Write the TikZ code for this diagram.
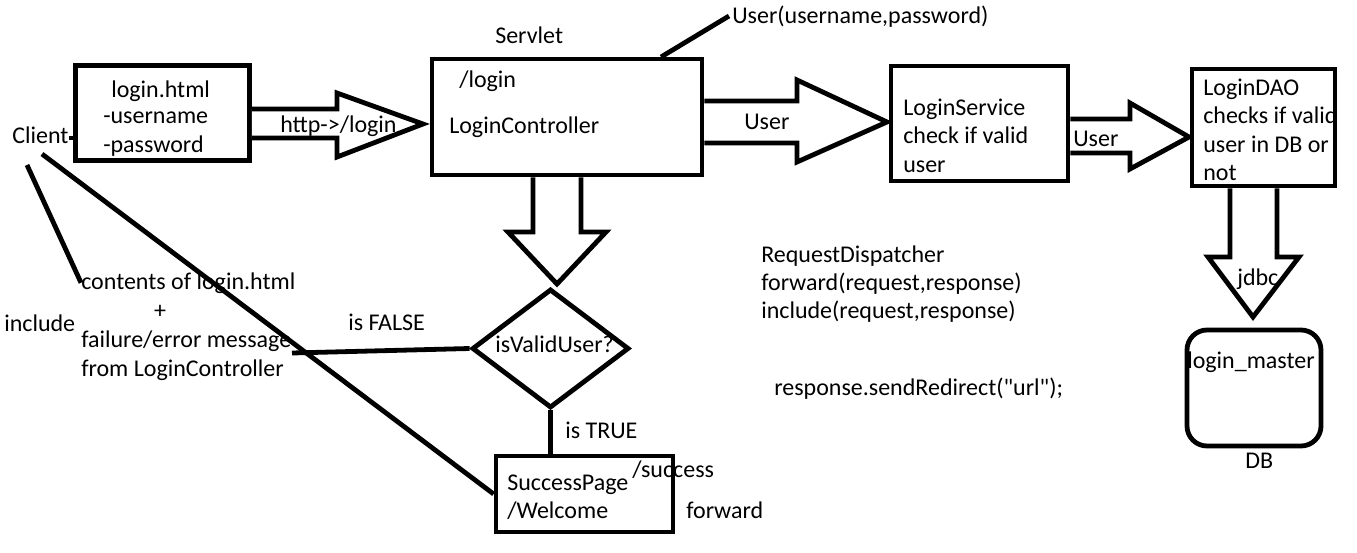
\documentclass[tikz,border=0pt]{standalone}
\usepackage{fontspec}
\setmainfont{Carlito}[Ligatures=TeXOff]
\usetikzlibrary{shapes.geometric,fit}
\begin{document}
\begin{tikzpicture}[x=0.75pt,y=-0.75pt,
  every node/.style={font=\fontsize{18pt}{21pt}\selectfont},
  txt/.style={inner sep=0pt, anchor=base west},
  ln/.style={line width=3.6pt, line cap=butt},
  box/.style={draw, line width=3.6pt, inner sep=0pt, fit={#1}},
  blockarrow/.style={draw, line width=3.6pt, line join=miter, fill=white}
]
\useasboundingbox[fill=white] (0,0) rectangle (1357,553);

% ---------- boxes ----------
\node[box={(75.5,65.5)(249.5,160.5)}] (login) {};
\node[box={(432,59)(702,175)}] (servlet) {};
\node[box={(891,66)(1068,181)}] (service) {};
\node[box={(1192,69)(1335,186)}] (dao) {};
\node[box={(496,456)(673,532)}] (success) {};
\node[draw, diamond, line width=3.6pt, inner sep=0pt,
      minimum width=117.75pt, minimum height=89.25pt] (dec) at (550.5,348.5) {};

% ---------- block arrows ----------
\draw[blockarrow] (login.east |- 0,109) -- (337,109) -- (337,93) -- (423,124)
   -- (337,157) -- (337,138) -- (login.east |- 0,138);
\draw[blockarrow] (servlet.east |- 0,101) -- (797,101) -- (797,80) -- (887,122)
   -- (797,162) -- (797,143) -- (servlet.east |- 0,143);
\draw[blockarrow] (service.east |- 0,119) -- (1130,119) -- (1130,103) -- (1189,137)
   -- (1130,169) -- (1130,153) -- (service.east |- 0,153);
\draw[blockarrow] (1230,0 |- dao.south) -- (1230,257) -- (1208,257) -- (1253,317)
   -- (1299,257) -- (1277,257) -- (1277,0 |- dao.south);
\draw[blockarrow] (533,0 |- servlet.south) -- (533,232) -- (508,232) -- (557,284)
   -- (606,232) -- (581,232) -- (581,0 |- servlet.south);

% ---------- texts ----------
\node[txt] (client) at (12,143) {Client};
\node[txt] (tlogin) at (111,97) {login.html};
\node[txt] (tuser) at (103,123) {-username};
\node[txt] (tpass) at (103,152) {-password};
\node[txt] (http) at (280,132) {http->/login};
\node[txt] (tservlet) at (495,43) {Servlet};
\node[txt] (tslash) at (459,87) {/login};
\node[txt] (tctrl) at (449,133) {LoginController};
\node[txt] (tobj) at (732,23) {User(username,password)};
\node[txt] (u1) at (744,129) {User};
\node[txt] (s1) at (903,115) {LoginService};
\node[txt] (s2) at (903,143) {check if valid};
\node[txt] (s3) at (903,172) {user};
\node[txt] (u2) at (1073,146) {User};
\begin{scope}
  \clip (1192,69) rectangle (1333,186);
  \node[txt] (d1) at (1203,95) {LoginDAO};
  \node[txt] (d2) at (1203,123) {checks if valid};
  \node[txt] (d3) at (1203,152) {user in DB or};
  \node[txt] (d4) at (1203,180) {not};
\end{scope}
\node[txt] (rd1) at (761,262) {RequestDispatcher};
\node[txt] (rd2) at (761,290) {forward(request,response)};
\node[txt] (rd3) at (761,318) {include(request,response)};
\node[txt] (redir) at (774,395) {response.sendRedirect("url");};
\node[txt] (tdec) at (495,352) {isValidUser?};
\node[txt] (ttrue) at (565,438) {is TRUE};
\node[txt] (tfalse) at (348,330) {is FALSE};
\node[txt] (sp1) at (507,490) {SuccessPage};
\node[txt] (sp2) at (507,518) {/Welcome};
\node[txt] (tsucc) at (632,477) {/success};
\node[txt] (tfwd) at (686,518) {forward};
\node[txt] (c1) at (81,289) {contents of login.html};
\node[inner sep=0pt] (c2) at (160,312) {+};
\node[txt] (c3) at (81,347) {failure/error message};
\node[txt] (c4) at (81,376) {from LoginController};
\node[txt] (tinc) at (4,331) {include};
\node[txt] (jdbc) at (1237,285) {jdbc};
\node[txt] (tlm) at (1187,368) {login\_master};
\node[txt] (tdb) at (1245,468) {DB};
\node[draw, line width=3.6pt, rounded corners=15pt, inner sep=0pt,
      fit={(1187,330)(1321,446)}] (db) {};

% ---------- lines ----------
\coordinate (cl1) at (27,165);
\coordinate (cl2) at (42,154);
\coordinate (sv) at (661,57);
\coordinate (objend) at (729,16);
\coordinate (fend) at (292,353);
\draw[line width=3pt] (client.east |- 0,138) -- (login.west |- 0,138);
\draw[ln] (cl1) -- (c1.west);
\draw[ln] (cl2) -- (success.west);
\draw[ln] (sv) -- (objend);
\draw[ln] (dec.west) -- (fend);
\draw[ln] (dec.south) -- (dec.south |- success.north);
\end{tikzpicture}
\end{document}
